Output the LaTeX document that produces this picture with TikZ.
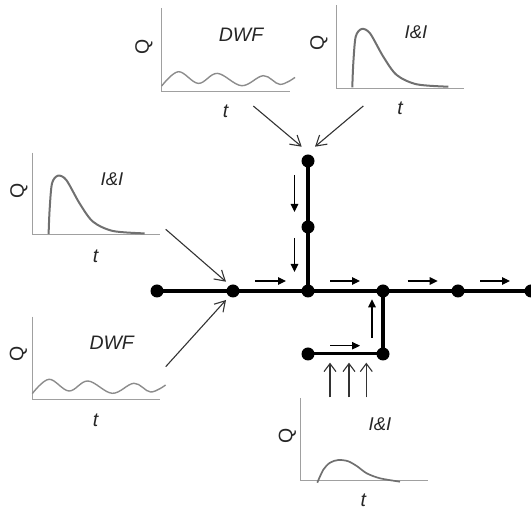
\documentclass[tikz,border=0pt]{standalone}
\usepackage{fontspec}
\setmainfont{Liberation Sans}
\usetikzlibrary{arrows.meta}
\definecolor{axisc}{HTML}{A0A0A0}
\definecolor{curvec}{HTML}{707070}
\definecolor{wavec}{HTML}{8C8C8C}
\definecolor{leadc}{HTML}{333333}
\tikzset{
  axisline/.style={draw=axisc,line width=1pt},
  peakcurve/.style={draw=curvec,line width=2pt,smooth,tension=0.5},
  wavecurve/.style={draw=wavec,line width=1.4pt,smooth,tension=0.6},
  junction/.style={circle,fill=black,inner sep=0pt,outer sep=0pt,minimum size=13pt},
  pipe/.style={draw=black,line width=3.8pt},
  branchpipe/.style={draw=black,line width=3pt},
  flowarrow/.style={draw=black,line width=1.1pt,-{Triangle[length=8pt,width=7.5pt]}},
  leadarrow/.style={draw=leadc,line width=1.1pt,-{Straight Barb[length=10pt,width=12pt,line width=1.1pt]}},
  riserarrow/.style={draw=leadc,line width=1.1pt,-{Straight Barb[length=8pt,width=12pt,line width=1.1pt]}},
  labeltext/.style={font=\fontsize{19.5}{22}\selectfont\itshape,text=black!85,inner sep=0pt},
  iitext/.style={font=\fontsize{18.5}{22}\selectfont\itshape,text=black!85,inner sep=0pt},
  qtext/.style={font=\fontsize{19.5}{22}\selectfont,rotate=90,text=black!85,inner sep=0pt},
}
\begin{document}
\begin{tikzpicture}[x=1pt,y=-1pt]
\useasboundingbox (0,0) rectangle (531,510);
% top DWF plot
\begin{scope}[shift={(161.7,91.7)}]
  \draw[axisline] (0,-83.7) -- (0,0) -- (128.3,0);
  \draw[wavecurve] plot coordinates {(0,-5.7) (16.7,-20) (36.7,-8.3) (55.7,-18.3) (80,-6) (101.7,-16) (118.3,-7.3) (133.3,-14.3)};
\end{scope}
\node[labeltext] (dwfA) at (241,34.3) {DWF};
\node[qtext] (qA) at (144,46.7) {Q};
\node[labeltext] (tA) at (225.7,111.7) {t};
% top I&I plot
\begin{scope}[shift={(336,88.3)}]
  \draw[axisline] (0,-83.3) -- (0,0) -- (128,0);
  \draw[peakcurve] plot coordinates {(16.3,-1) (17.3,-25) (19.7,-51.6) (25.7,-59.3) (34,-55) (47.3,-31.6) (60.7,-13.3) (80.7,-4) (112.3,-1.6)};
\end{scope}
\node[iitext] (iiA) at (416,32) {I\&I};
\node[qtext] (qB) at (319,43) {Q};
\node[labeltext] (tB) at (400,108.3) {t};
% left I&I plot
\begin{scope}[shift={(32.3,235)}]
  \draw[axisline] (0,-82.3) -- (0,0) -- (128,0);
  \draw[peakcurve] plot coordinates {(16.3,-1) (17.3,-25) (19.7,-51.6) (25.7,-59.3) (34,-55) (47.3,-31.6) (60.7,-13.3) (80.7,-4) (112.3,-1.6)};
\end{scope}
\node[iitext] (iiB) at (112,179) {I\&I};
\node[qtext] (qC) at (19,191) {Q};
\node[labeltext] (tC) at (95.7,256.7) {t};
% left DWF plot
\begin{scope}[shift={(32.3,399.3)}]
  \draw[axisline] (0,-82.6) -- (0,0) -- (128,0);
  \draw[wavecurve] plot coordinates {(0,-5.7) (16.7,-20) (36.7,-8.3) (55.7,-18.3) (80,-6) (101.7,-16) (118.3,-7.3) (133.3,-14.3)};
\end{scope}
\node[labeltext] (dwfB) at (111.7,342.3) {DWF};
\node[qtext] (qD) at (18.3,354) {Q};
\node[labeltext] (tD) at (95.7,420.7) {t};
% bottom I&I plot
\begin{scope}[shift={(300,480.7)}]
  \draw[axisline] (0,-82.7) -- (0,0) -- (128,0);
  \draw[peakcurve,line width=1.7pt] plot coordinates {(17.3,2) (23.3,-11) (30,-18) (38.3,-20.7) (48,-19.5) (57,-14.5) (66.7,-7.4) (80,-2.4) (100,1)};
\end{scope}
\node[iitext] (iiC) at (380,424) {I\&I};
\node[qtext] (qE) at (287.3,435.7) {Q};
\node[labeltext] (tE) at (363.3,500.7) {t};
% network
\node[junction] (m1) at (157,291) {};
\node[junction] (m2) at (233,291) {};
\node[junction] (m3) at (308,291) {};
\node[junction] (m4) at (383,291) {};
\node[junction] (m5) at (458,291) {};
\node[junction] (m6) at (531,291) {};
\node[junction] (u1) at (308,161) {};
\node[junction] (u2) at (308,227) {};
\node[junction] (b1) at (308,354) {};
\node[junction] (b2) at (383,354) {};
\draw[pipe] (m1.center) -- (m2.center);
\draw[pipe] (m2.center) -- (m3.center);
\draw[pipe] (m3.center) -- (m4.center);
\draw[pipe] (m4.center) -- (m5.center);
\draw[pipe] (m5.center) -- (m6.center);
\draw[pipe] (u1.center) -- (u2.center);
\draw[pipe] (u2.center) -- (m3.center);
\draw[pipe] (b2.center) -- (m4.center);
\draw[branchpipe] (b1.center) -- (b2.center);
% flow arrows
\coordinate (f1s) at (255,281); \coordinate (f1e) at (286,281);
\coordinate (f2s) at (330,281); \coordinate (f2e) at (360,281);
\coordinate (f3s) at (407.7,281); \coordinate (f3e) at (437.7,281);
\coordinate (f4s) at (480,281); \coordinate (f4e) at (510,281);
\coordinate (f5s) at (330,345.7); \coordinate (f5e) at (360,345.7);
\coordinate (f6s) at (372,337.7); \coordinate (f6e) at (372,299.3);
\coordinate (f7s) at (294.5,175); \coordinate (f7e) at (294.5,212);
\coordinate (f8s) at (294.5,238); \coordinate (f8e) at (294.5,272);
\foreach \k in {1,...,8} {\draw[flowarrow] (f\k s) -- (f\k e);}
% inflow arrows
\coordinate (l1s) at (253.3,106); \coordinate (l1e) at (301.7,146.7);
\coordinate (l2s) at (363.3,106); \coordinate (l2e) at (315,146.7);
\coordinate (l3s) at (165.7,229.3); \coordinate (l3e) at (226,281.7);
\coordinate (l4s) at (165.7,366.7); \coordinate (l4e) at (226,300);
\foreach \k in {1,...,4} {\draw[leadarrow] (l\k s) -- (l\k e);}
\coordinate (r1s) at (330,397.3); \coordinate (r1e) at (330,362.7);
\coordinate (r2s) at (349,397.3); \coordinate (r2e) at (349,362.7);
\coordinate (r3s) at (366.3,397.3); \coordinate (r3e) at (366.3,362.7);
\foreach \k in {1,...,3} {\draw[riserarrow] (r\k s) -- (r\k e);}
\end{tikzpicture}
\end{document}
